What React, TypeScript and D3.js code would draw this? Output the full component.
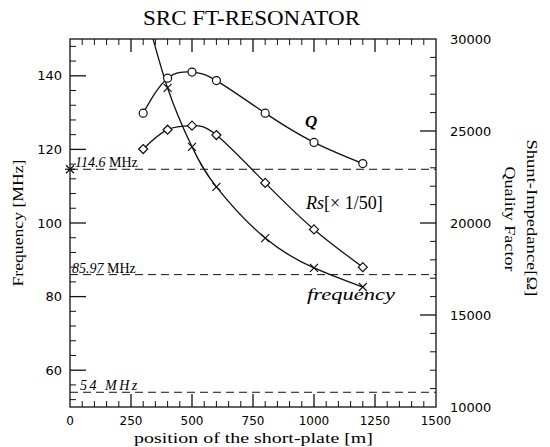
import React from "react";
import * as d3 from "d3";

// measured positions of the short plate [m]
const positions = [300, 400, 500, 600, 800, 1000, 1200];
const qFactor = [25970, 27870, 28200, 27740, 25970, 24380, 23230];
const shuntImp = [24020, 25070, 25290, 24780, 22180, 19650, 17600]; // Rs / 50

const freqPositions = [300, 400, 500, 600, 800, 1000, 1200];
const freqValues = [160, 136.7, 120.7, 109.8, 95.9, 87.8, 82.6];

const refLines = [114.6, 85.97, 54];

const xTicks = [0, 250, 500, 750, 1000, 1250, 1500];
const leftTicks = [60, 80, 100, 120, 140];
const rightTicks = [10000, 15000, 20000, 25000, 30000];

const W = 550;
const H = 447;
const margin = { top: 39, right: 114, bottom: 40, left: 70 };
const serif = "'Liberation Serif', 'DejaVu Serif', serif";
const sans = "'DejaVu Sans', sans-serif";

const App = () => {
  const x = d3.scaleLinear().domain([0, 1500]).range([margin.left, W - margin.right]);
  const yL = d3.scaleLinear().domain([50, 150]).range([H - margin.bottom, margin.top]);
  const yR = d3.scaleLinear().domain([10000, 30000]).range([H - margin.bottom, margin.top]);

  const [x0, x1] = x.range();
  const [y0, y1] = yL.range(); // y0 bottom, y1 top

  const line = d3.line().curve(d3.curveNatural);
  const qPath = line(positions.map((p, i) => [x(p), yR(qFactor[i])]));
  const rsPath = line(positions.map((p, i) => [x(p), yR(shuntImp[i])]));
  const fPath = line(freqPositions.map((p, i) => [x(p), yL(freqValues[i])]));

  const xMinor = d3.range(50, 1500, 50).filter(v => v % 250 !== 0);
  const lMinor = d3.range(52, 150, 4).filter(v => v % 20 !== 0);
  const rMinor = d3.range(11000, 30000, 1000).filter(v => v % 5000 !== 0);

  const stroke = "#111";
  const sw = 1.3;

  const diamond = (cx, cy, s = 4.5) =>
    `M${cx},${cy - s}L${cx + s},${cy}L${cx},${cy + s}L${cx - s},${cy}Z`;
  const cross = (cx, cy, s = 4) =>
    `M${cx - s},${cy - s}L${cx + s},${cy + s}M${cx - s},${cy + s}L${cx + s},${cy - s}`;

  return (
    <svg width={W} height={H} style={{ position: "absolute", left: 0, top: 0, background: "#fff" }}>
      <defs>
        <clipPath id="plot">
          <rect x={x0} y={y1} width={x1 - x0} height={y0 - y1} />
        </clipPath>
      </defs>

      {/* title */}
      <text x={143} y={25} fontFamily={serif} fontSize={21} textLength={217} lengthAdjust="spacingAndGlyphs">
        SRC FT-RESONATOR
      </text>

      {/* frame */}
      <rect x={x0} y={y1} width={x1 - x0} height={y0 - y1} fill="none" stroke={stroke} strokeWidth={sw} />

      {/* x ticks top & bottom */}
      {xTicks.slice(1, -1).map(v => (
        <g key={"xt" + v} stroke={stroke} strokeWidth={sw}>
          <line x1={x(v)} x2={x(v)} y1={y1} y2={y1 + 13} />
          <line x1={x(v)} x2={x(v)} y1={y0} y2={y0 - 13} />
        </g>
      ))}
      {xMinor.map(v => (
        <g key={"xm" + v} stroke={stroke} strokeWidth={1}>
          <line x1={x(v)} x2={x(v)} y1={y1} y2={y1 + 6} />
          <line x1={x(v)} x2={x(v)} y1={y0} y2={y0 - 6} />
        </g>
      ))}
      {xTicks.map(v => (
        <text key={"xl" + v} x={x(v)} y={425} textAnchor="middle" fontFamily={sans} fontSize={12}>
          {v}
        </text>
      ))}

      {/* left axis */}
      {leftTicks.map(v => (
        <g key={"lt" + v}>
          <line x1={x0} x2={x0 + 16} y1={yL(v)} y2={yL(v)} stroke={stroke} strokeWidth={sw} />
          <text x={62} y={yL(v)} dy="0.36em" textAnchor="end" fontFamily={sans} fontSize={13}>
            {v}
          </text>
        </g>
      ))}
      {lMinor.map(v => (
        <line key={"lm" + v} x1={x0} x2={x0 + 6} y1={yL(v)} y2={yL(v)} stroke={stroke} strokeWidth={1} />
      ))}

      {/* right axis */}
      {rightTicks.map(v => (
        <g key={"rt" + v}>
          {v > 10000 && v < 30000 && (
            <line x1={x1} x2={x1 - 16} y1={yR(v)} y2={yR(v)} stroke={stroke} strokeWidth={sw} />
          )}
          <text x={450} y={yR(v)} dy="0.36em" fontFamily={sans} fontSize={13}>
            {v}
          </text>
        </g>
      ))}
      {rMinor.map(v => (
        <line key={"rm" + v} x1={x1} x2={x1 - 6} y1={yR(v)} y2={yR(v)} stroke={stroke} strokeWidth={1} />
      ))}

      {/* axis titles */}
      <text
        transform={`translate(23,223) rotate(-90)`}
        textAnchor="middle"
        fontFamily={serif}
        fontSize={14}
        textLength={127}
        lengthAdjust="spacingAndGlyphs"
      >
        Frequency [MHz]
      </text>
      <text
        transform={`translate(527,218) rotate(90)`}
        textAnchor="middle"
        fontFamily={serif}
        fontSize={14}
        textLength={157}
        lengthAdjust="spacingAndGlyphs"
      >
        Shunt-Impedance[Ω]
      </text>
      <text
        transform={`translate(505,219) rotate(90)`}
        textAnchor="middle"
        fontFamily={serif}
        fontSize={14}
        textLength={105}
        lengthAdjust="spacingAndGlyphs"
      >
        Quality Factor
      </text>
      <text x={134} y={443} fontFamily={serif} fontSize={14} textLength={239} lengthAdjust="spacingAndGlyphs">
        position of the short-plate [m]
      </text>

      {/* reference frequencies */}
      {refLines.map(v => (
        <line
          key={"ref" + v}
          x1={x0}
          x2={x1}
          y1={yL(v)}
          y2={yL(v)}
          stroke={stroke}
          strokeWidth={1}
          strokeDasharray="8,5"
        />
      ))}
      <text x={75} y={yL(refLines[0]) - 2} fontFamily={serif} fontSize={14}>
        <tspan fontStyle="italic">114.6</tspan> MHz
      </text>
      <text x={72} y={yL(refLines[1]) - 2} fontFamily={serif} fontSize={14}>
        <tspan fontStyle="italic">85.97</tspan> MHz
      </text>
      <text x={80} y={yL(refLines[2]) - 2} fontFamily={serif} fontSize={14} fontStyle="italic" letterSpacing={2.5}>
        54 MHz
      </text>

      {/* curves */}
      <g clipPath="url(#plot)" fill="none" stroke={stroke} strokeWidth={sw}>
        <path d={qPath} />
        <path d={rsPath} />
        <path d={fPath} />
      </g>

      {/* markers */}
      {positions.map((p, i) => (
        <circle key={"q" + p} cx={x(p)} cy={yR(qFactor[i])} r={4} fill="#fff" stroke={stroke} strokeWidth={1.2} />
      ))}
      {positions.map((p, i) => (
        <path key={"rs" + p} d={diamond(x(p), yR(shuntImp[i]))} fill="#fff" stroke={stroke} strokeWidth={1.2} />
      ))}
      {freqPositions
        .filter((p, i) => freqValues[i] <= 150)
        .map(p => {
          const i = freqPositions.indexOf(p);
          return <path key={"f" + p} d={cross(x(p), yL(freqValues[i]))} fill="none" stroke={stroke} strokeWidth={1.2} />;
        })}
      {/* design frequency at the plate position 0 */}
      <g stroke={stroke} strokeWidth={1.2}>
        <path d={cross(x(0), yL(refLines[0]))} />
        <line x1={x(0) - 5} x2={x(0) + 5} y1={yL(refLines[0])} y2={yL(refLines[0])} />
      </g>

      {/* curve labels */}
      <text x={305} y={127} fontFamily={serif} fontSize={17} fontStyle="italic" fontWeight="bold">
        Q
      </text>
      <text x={306} y={209} fontFamily={serif} fontSize={18}>
        <tspan fontStyle="italic">Rs</tspan>[× 1/50]
      </text>
      <text x={307} y={300} fontFamily={serif} fontSize={16} fontStyle="italic" textLength={88} lengthAdjust="spacingAndGlyphs">
        frequency
      </text>
    </svg>
  );
};

export default App;
